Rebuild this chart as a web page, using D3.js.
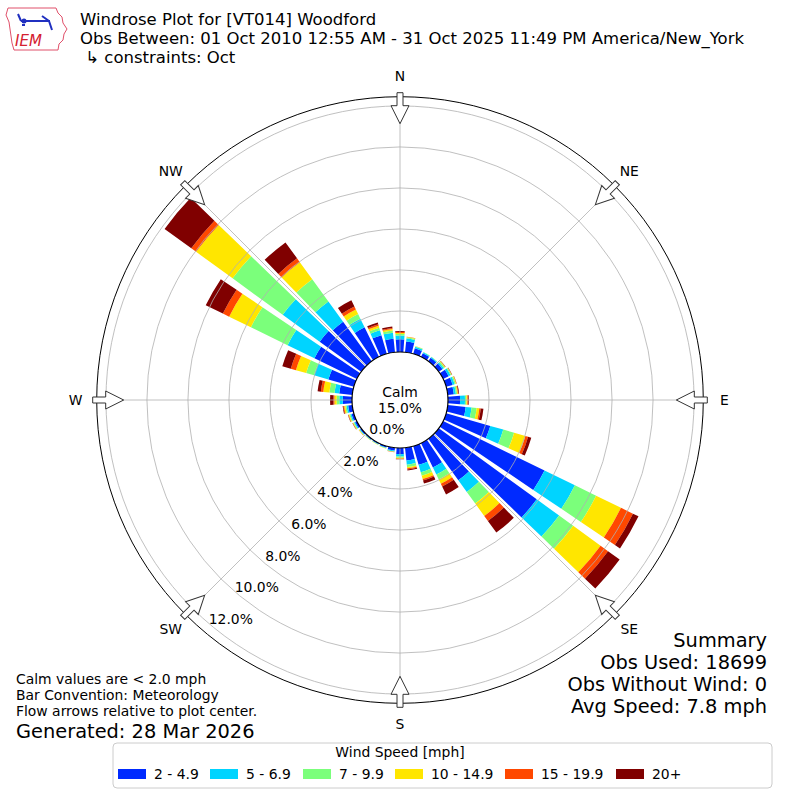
<!DOCTYPE html>
<html><head><meta charset="utf-8">
<script src="https://cdn.jsdelivr.net/npm/d3@7"></script>
<style>body{margin:0;background:#fff}svg{display:block}text{font-family:"DejaVu Sans",sans-serif}</style>
</head><body>
<svg id="c" width="800" height="800"></svg>
<script>
// ---- data ----
const directions = [0,10,20,30,40,50,60,70,80,90,100,110,120,130,140,150,160,170,180,190,200,210,220,230,240,250,260,270,280,290,300,310,320,330,340,350];
const speedBins = ["2 - 4.9","5 - 6.9","7 - 9.9","10 - 14.9","15 - 19.9","20+"];
const binColors = ["#002aff","#00d4ff","#7bff7b","#ffe600","#ff4800","#800000"];
const s_2_5   = [0.62,0.53,0.28,0.20,0.20,0.22,0.30,0.33,0.30,0.59,0.88,2.24,5.50,5.90,2.50,1.32,0.95,0.63,0.30,0.13,0.07,0.05,0.05,0.07,0.10,0.12,0.20,0.45,0.64,1.29,2.30,2.50,2.38,1.60,0.95,0.66];
const s_5_7   = [0.18,0.14,0.08,0.05,0.05,0.08,0.10,0.10,0.10,0.24,0.29,0.66,1.65,1.35,0.70,0.38,0.38,0.20,0.12,0.05,0.03,0.02,0.02,0.03,0.05,0.06,0.08,0.17,0.23,0.73,1.46,2.23,1.22,0.47,0.25,0.30];
const s_7_10  = [0.08,0.06,0.03,0.02,0.02,0.06,0.05,0.06,0.06,0.07,0.25,0.55,1.15,0.85,0.70,0.27,0.17,0.12,0.06,0.02,0.02,0.02,0.02,0.02,0.04,0.05,0.06,0.13,0.25,0.40,1.99,3.02,1.34,0.25,0.13,0.11];
const s_10_15 = [0.05,0.02,0.01,0.00,0.00,0.03,0.02,0.03,0.04,0.05,0.13,0.57,1.35,1.65,0.75,0.23,0.17,0.06,0.04,0.01,0.01,0.01,0.01,0.02,0.03,0.04,0.06,0.11,0.30,0.52,1.18,2.20,1.03,0.25,0.10,0.07];
const s_15_20 = [0.05,0.01,0.00,0.00,0.00,0.01,0.01,0.01,0.03,0.04,0.07,0.14,0.65,0.45,0.30,0.15,0.07,0.06,0.02,0.01,0.00,0.00,0.00,0.01,0.01,0.02,0.04,0.05,0.12,0.26,0.34,0.29,0.23,0.16,0.07,0.05];
const s_20p   = [0.04,0.00,0.00,0.00,0.00,0.01,0.01,0.01,0.03,0.03,0.13,0.16,0.30,0.70,0.70,0.43,0.16,0.05,0.01,0.00,0.00,0.00,0.00,0.00,0.01,0.01,0.03,0.16,0.16,0.43,0.93,1.61,0.96,0.34,0.09,0.07];
const seriesValues = [s_2_5,s_5_7,s_7_10,s_10_15,s_15_20,s_20p];
const radialTicks = [0,2,4,6,8,10,12];
const compass = [{a:0,l:"N"},{a:45,l:"NE"},{a:90,l:"E"},{a:135,l:"SE"},{a:180,l:"S"},{a:225,l:"SW"},{a:270,l:"W"},{a:315,l:"NW"}];
const calmPct = "15.0%";
const titleLines = ["Windrose Plot for [VT014] Woodford","Obs Between: 01 Oct 2010 12:55 AM - 31 Oct 2025 11:49 PM America/New_York"," \u21b3 constraints: Oct"];
const summaryLines = ["Summary","Obs Used: 18699","Obs Without Wind: 0","Avg Speed: 7.8 mph"];
const noteLines = ["Calm values are < 2.0 mph","Bar Convention: Meteorology","Flow arrows relative to plot center."];
const generated = "Generated: 28 Mar 2026";

// ---- layout ----
const svg = d3.select("#c");
const cx = 400, cy = 400;
const rScale = d3.scaleLinear().domain([0, 12.45]).range([48, 303.3]);
const rad = d => d*Math.PI/180;
const g = svg.append("g").attr("transform",`translate(${cx},${cy})`);
const FS = 13.9;

// bars
const table = directions.map((d,i)=>{const o={dir:d}; speedBins.forEach((k,j)=>o[k]=seriesValues[j][i]); return o;});
const stacked = d3.stack().keys(speedBins)(table);
const arc = d3.arc();
const half = 4; // opening 0.8 of 10 deg
stacked.forEach((layer,j)=>{
  g.append("g").selectAll("path").data(layer).join("path")
    .attr("d", d => arc({innerRadius:rScale(d[0]), outerRadius:rScale(d[1]), startAngle:rad(d.data.dir-half), endAngle:rad(d.data.dir+half)}))
    .attr("fill", binColors[j]);
});

// grid
const grid = g.append("g").attr("fill","none").attr("stroke","#b0b0b0").attr("stroke-width",0.8);
grid.selectAll("circle").data(radialTicks.filter(v=>v>0)).join("circle").attr("r",d=>rScale(d));
grid.selectAll("line").data(compass).join("line")
  .attr("x1",d=>Math.sin(rad(d.a))*rScale(0)).attr("y1",d=>-Math.cos(rad(d.a))*rScale(0))
  .attr("x2",d=>Math.sin(rad(d.a))*rScale(12.45)).attr("y2",d=>-Math.cos(rad(d.a))*rScale(12.45));
g.append("circle").attr("r",rScale(12.45)).attr("fill","none").attr("stroke","#000").attr("stroke-width",1);

// calm circle
g.append("circle").attr("r",rScale(0)).attr("fill","#fff").attr("stroke","#000").attr("stroke-width",1.2);
g.append("text").attr("x",0).attr("y",-3).attr("text-anchor","middle").attr("font-size",FS).text("Calm");
g.append("text").attr("x",0).attr("y",13).attr("text-anchor","middle").attr("font-size",FS).text(calmPct);

// radial labels
const lblAng = rad(219.4);
g.append("g").selectAll("text").data(radialTicks).join("text")
  .attr("x",d=>-13+Math.sin(lblAng)*(rScale(d)-rScale(0)))
  .attr("y",d=>29-Math.cos(lblAng)*(rScale(d)-rScale(0)))
  .attr("text-anchor","middle").attr("dominant-baseline","central").attr("font-size",FS)
  .text(d=>d.toFixed(1)+"%");

// arrows + compass labels
const rOut = rScale(12.45);
compass.forEach(c=>{
  const t0 = rOut+4, t1 = rOut-9, tip = rOut-27, hw = 3, hh = 9;
  const pts = [[-hw,t0],[hw,t0],[hw,t1],[hh,t1],[0,tip],[-hh,t1],[-hw,t1]];
  g.append("path").attr("d", "M"+pts.map(p=>p[0]+","+(-p[1])).join("L")+"Z")
    .attr("transform",`rotate(${c.a})`).attr("fill","#fff").attr("stroke","#333").attr("stroke-width",1);
  const rl = rOut+21;
  g.append("text").attr("x",Math.sin(rad(c.a))*rl).attr("y",-Math.cos(rad(c.a))*rl)
    .attr("text-anchor","middle").attr("dominant-baseline","central").attr("font-size",FS).text(c.l);
});

// title
svg.append("g").selectAll("text").data(titleLines).join("text")
  .attr("x",80).attr("y",(d,i)=>24.5+i*19).attr("font-size",16.5).style("white-space","pre").text(d=>d);

// logo
const logo = svg.append("g");
logo.append("path").attr("d","M8,8 L56,8 L58,13 L62,17 L63,23 L67,29 L64,34 L63,40 L59,44 L58,50 L14,50 L12,43 L11,36 L10,29 L9,22 L6,15 Z")
  .attr("fill","none").attr("stroke","#e0506a").attr("stroke-width",1);
logo.append("text").attr("x",15).attr("y",46).attr("font-family","DejaVu Serif, serif").attr("font-style","italic").attr("font-size",15).attr("fill","#d42030").text("IEM");
logo.append("path").attr("d","M21,21 L50,21 M21,21 L18,14 M42,16 L49,21 M49,21 L52,30 M22,25 L25,25")
  .attr("stroke","#2030c0").attr("stroke-width",2).attr("fill","none");
logo.append("circle").attr("cx",24).attr("cy",21).attr("r",2.5).attr("fill","#2030c0");

// summary
svg.append("g").selectAll("text").data(summaryLines).join("text")
  .attr("x",767).attr("y",(d,i)=>647+i*22).attr("text-anchor","end").attr("font-size",19.4).text(d=>d);

// notes
svg.append("g").selectAll("text").data(noteLines).join("text")
  .attr("x",16).attr("y",(d,i)=>683.5+i*16).attr("font-size",FS).text(d=>d);
svg.append("text").attr("x",16).attr("y",737.5).attr("font-size",19.4).text(generated);

// legend
const lg = svg.append("g");
lg.append("rect").attr("x",113).attr("y",743).attr("width",659).attr("height",45).attr("rx",4)
  .attr("fill","#fff").attr("stroke","#cccccc").attr("stroke-width",1);
lg.append("text").attr("x",400).attr("y",757).attr("text-anchor","middle").attr("font-size",FS).text("Wind Speed [mph]");
const legendX = [118,210,303,395,505,616];
speedBins.forEach((b,j)=>{
  lg.append("rect").attr("x",legendX[j]).attr("y",769).attr("width",28).attr("height",10).attr("fill",binColors[j]);
  lg.append("text").attr("x",legendX[j]+36).attr("y",779).attr("font-size",FS).text(b);
});
</script>
</body></html>
